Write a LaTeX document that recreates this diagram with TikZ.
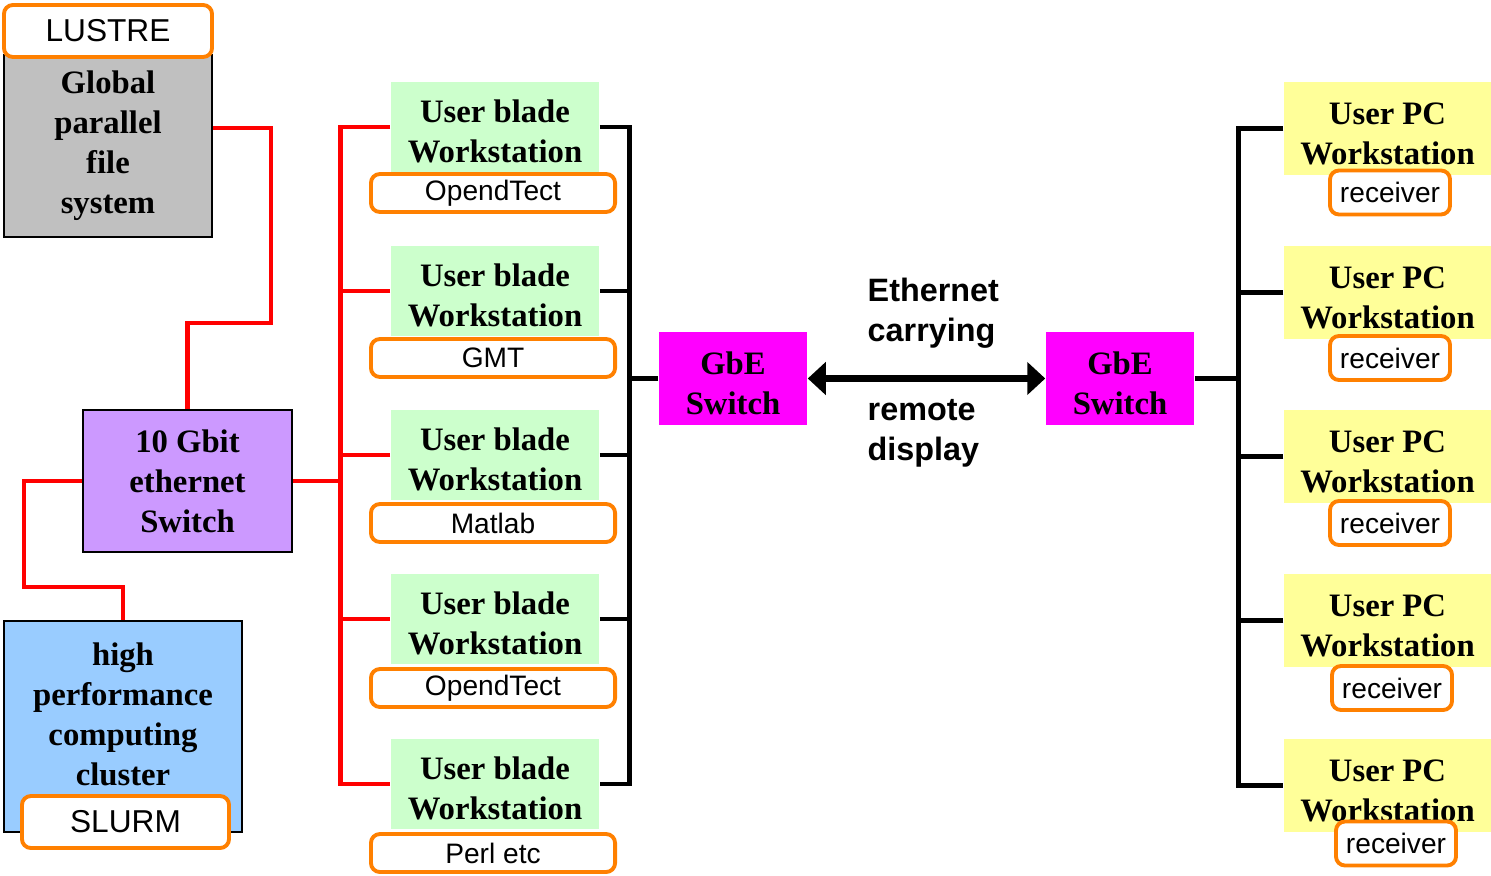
\documentclass[tikz,border=0pt]{standalone}
\usepackage{fontspec}
\setmainfont{Liberation Serif}
\setsansfont{Liberation Sans}
\usetikzlibrary{positioning,arrows.meta}
\definecolor{fsgray}{HTML}{C0C0C0}
\definecolor{swpurple}{HTML}{CC99FF}
\definecolor{hpcblue}{HTML}{99CCFF}
\definecolor{bladegreen}{HTML}{CCFFCC}
\definecolor{pcyellow}{HTML}{FFFF99}
\definecolor{gbemagenta}{HTML}{FF00FF}
\definecolor{labelorange}{HTML}{FF8000}
\definecolor{linkred}{HTML}{FF0000}
\newcommand{\wsstrut}{\rule{0pt}{9pt}}

\begin{document}
\begin{tikzpicture}[x=0.01cm,y=-0.01cm,
                    box node/.style={draw=black,line width=0.8pt,inner sep=0pt,align=center,
                                     font=\bfseries\fontsize{9.3}{11.4}\selectfont},
                    ws node/.style={inner sep=0pt,align=center,minimum width=2.08cm,
                                    font=\bfseries\fontsize{9.3}{11.4}\selectfont},
                    app label/.style={draw=labelorange,line width=1.1pt,rounded corners=0.09cm,
                                      fill=white,inner sep=0pt,
                                      font=\sffamily\fontsize{8}{9.6}\selectfont},
                    red line/.style={draw=linkred,line width=1.4pt},
                    black line/.style={draw=black,line width=1.4pt}
                   ]
  \useasboundingbox (0,0) rectangle (1491,876);

  % storage, core switch and cluster
  \node[box node,fill=fsgray,minimum width=2.08cm,minimum height=1.82cm] (gpfs) at (108,146)
       {Global\\parallel\\file\\system};
  \node[app label,minimum width=2.08cm,minimum height=0.52cm,
        font=\sffamily\fontsize{9}{10.8}\selectfont] (lustre) at (108,31) {LUSTRE};
  \node[box node,fill=swpurple,minimum width=2.09cm,minimum height=1.42cm] (tengb) at (187.5,481)
       {10 Gbit\\ethernet\\Switch};
  \node[box node,fill=hpcblue,minimum width=2.38cm,minimum height=2.11cm] (hpc) at (123,726.5) {};
  \node[align=center,inner sep=0pt,font=\bfseries\fontsize{9.3}{11.4}\selectfont] (hpctext) at (123,714)
       {high\\performance\\computing\\cluster};
  \node[app label,minimum width=2.07cm,minimum height=0.52cm,
        font=\sffamily\fontsize{9}{10.8}\selectfont] (slurm) at (125.5,822) {SLURM};

  % blade workstations
  \foreach \n/\ytop/\ylab/\app in {1/82/193/OpendTect, 2/246/358/GMT, 3/410/523/Matlab,
                                   4/574/688/OpendTect, 5/739/853/Perl etc}{
    \node[ws node,fill=bladegreen,minimum height=0.89cm] (blade\n) at (495,\ytop+45)
         {\wsstrut User blade\\Workstation};
    \node[app label,minimum width=2.44cm,minimum height=0.38cm] (app\n) at (493,\ylab) {\app};
  }

  % PC workstations
  \foreach \n/\ytop/\ylab/\xlab in {1/82/192.5/1390, 2/246/358/1390, 3/410/523/1390,
                                    4/574/688/1392, 5/739/843.5/1396}{
    \node[ws node,fill=pcyellow,minimum width=2.07cm,minimum height=0.93cm] (pc\n) at (1387.5,\ytop+46.5)
         {\wsstrut User PC\\Workstation};
    \node[app label,minimum width=1.20cm,minimum height=0.44cm] (recv\n) at (\xlab,\ylab) {receiver};
  }

  % GbE switches
  \node[ws node,fill=gbemagenta,minimum width=1.48cm,minimum height=0.93cm] (gbe1) at (733,378.5)
       {\wsstrut GbE\\Switch};
  \node[ws node,fill=gbemagenta,minimum width=1.48cm,minimum height=0.93cm] (gbe2) at (1120,378.5)
       {\wsstrut GbE\\Switch};
  \node[anchor=west,align=left,inner sep=0pt,font=\sffamily\bfseries\fontsize{9.2}{11.4}\selectfont]
       (ethtop) at (867,313) {Ethernet\\carrying};
  \node[anchor=west,align=left,inner sep=0pt,font=\sffamily\bfseries\fontsize{9.2}{11.4}\selectfont]
       (ethbot) at (867,433) {remote\\display};

  % 10 Gbit links
  \draw[red line] ([yshift=0.18cm]gpfs.east) -| (271,323) -| (tengb.north);
  \draw[red line] (tengb.west) -| (24,587) -| (hpc.north);
  \draw[red line] (blade1.west) -- ++(-50,0) |- (blade5.west);
  \foreach \n in {2,3,4}
    \draw[red line] (blade\n.west) -- ++(-50,0);
  \draw[red line] (tengb.east) -- ++(49,0);

  % gigabit links
  \draw[black line] (blade1.east) -- ++(30,0) |- (blade5.east);
  \foreach \n in {2,3,4}
    \draw[black line] (blade\n.east) -- ++(30,0);
  \draw[black line] (gbe1.west) -- ++(-30,0);
  \draw[black line] (pc1.west) -- ++(-45,0) |- (pc5.west);
  \foreach \n in {2,3,4}
    \draw[black line] (pc\n.west) -- ++(-45,0);
  \draw[black line] (gbe2.east) -- ++(45,0);
  \draw[line width=1.8pt,{Triangle[width=0.32cm,length=0.18cm]}-{Triangle[width=0.32cm,length=0.18cm]}]
       (gbe1.east) -- (gbe2.west);
\end{tikzpicture}
\end{document}
